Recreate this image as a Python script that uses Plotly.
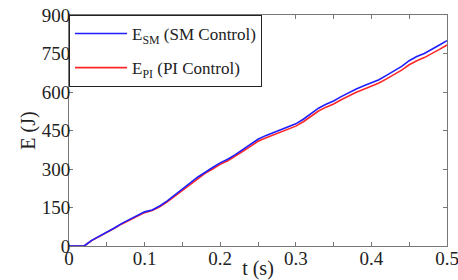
import plotly.graph_objects as go

t = [round(i * 0.01, 2) for i in range(51)]
e_sm = [0, 0, 0, 22, 38, 51, 70, 88, 103, 117, 133, 140, 156, 176, 198, 222, 245, 268, 288, 306,
        324, 338, 356, 376, 396, 416, 430, 442, 451, 463, 476, 494, 516, 537, 552, 565, 582, 598,
        612, 624, 636, 648, 665, 682, 700, 722, 738, 750, 765, 783, 800]
e_pi = [0, 0, 0, 21, 37, 50, 69, 86, 101, 115, 130, 138, 153, 172, 194, 218, 240, 263, 283, 300,
        318, 332, 349, 369, 388, 408, 421, 433, 442, 454, 467, 484, 506, 526, 541, 553, 570, 586,
        599, 611, 623, 635, 651, 667, 685, 706, 722, 734, 749, 766, 783]
names = ["E<sub>SM</sub> (SM Control)", "E<sub>PI</sub> (PI Control)"]
x_ticks = [0, 0.1, 0.2, 0.3, 0.4, 0.5]
x_tick_text = ["0", "0.1", "0.2", "0.3", "0.4", "0.5"]
y_ticks = [0, 150, 300, 450, 600, 750, 900]

FONT = "Liberation Serif, Times New Roman, serif"

fig = go.Figure()
fig.add_trace(go.Scatter(x=t, y=e_pi, mode="lines", name=names[1],
                         line=dict(color="rgb(255,40,40)", width=1.6),
                         legendrank=2, legendgroup="b"))
fig.add_trace(go.Scatter(x=t, y=e_sm, mode="lines", name=names[0],
                         line=dict(color="rgb(30,30,255)", width=1.6),
                         legendrank=1, legendgroup="a"))

axis_common = dict(
    showgrid=False, zeroline=False, showline=True, linecolor="#777", linewidth=1,
    mirror="ticks", ticks="inside", ticklen=4, tickcolor="#777", automargin=False,
    ticklabeloverflow="allow",
    tickfont=dict(family=FONT, size=19, color="#222"),
)

fig.update_xaxes(range=[0, 0.5], tickvals=x_ticks, ticktext=x_tick_text,
                 minor=dict(dtick=0.05, tick0=0, ticks="inside", ticklen=4, tickcolor="#777"),
                 title=dict(text="t (s)", font=dict(family=FONT, size=20, color="#222"), standoff=4),
                 ticklabelstandoff=-5,
                 **axis_common)
fig.update_yaxes(range=[0, 900], tickvals=y_ticks,
                 title=dict(text="E (J)", font=dict(family=FONT, size=20, color="#222"), standoff=0),
                 ticklabelstandoff=-6,
                 **axis_common)

fig.update_layout(
    width=458, height=280,
    margin=dict(l=69, r=11, t=15, b=34),
    paper_bgcolor="white", plot_bgcolor="white",
    showlegend=True,
    legend=dict(x=0, y=1, xanchor="left", yanchor="top",
                bordercolor="#222", borderwidth=1, bgcolor="white",
                font=dict(family=FONT, size=17, color="#222"),
                tracegroupgap=9, itemwidth=52),
)

fig.write_html(
    "out.html",
    config={"displayModeBar": False},
    post_script="document.body.style.margin='0';document.body.style.overflow='hidden';",
)
